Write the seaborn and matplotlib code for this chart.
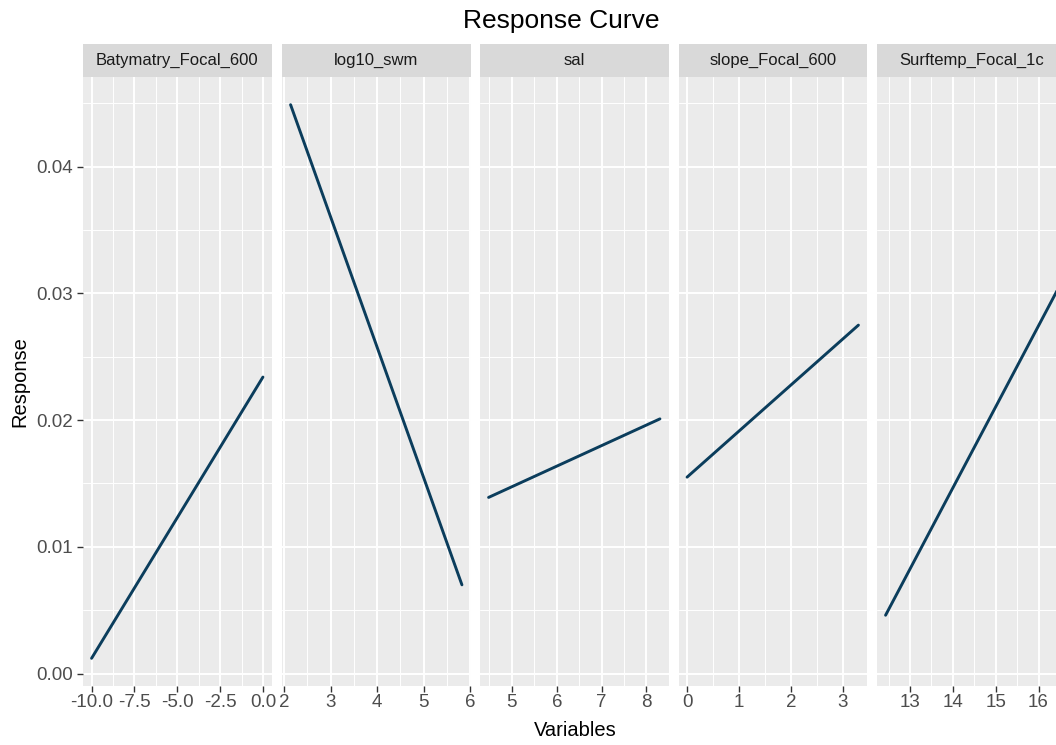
import matplotlib
matplotlib.use("Agg")
import matplotlib.pyplot as plt
from matplotlib.patches import Rectangle
from matplotlib.ticker import FixedLocator, AutoMinorLocator, FormatStrFormatter
import numpy as np
import pandas as pd
import seaborn as sns

# Response curve end points for each predictor
variables = ["Batymatry_Focal_600", "log10_swm", "sal", "slope_Focal_600", "Surftemp_Focal_1c"]
bat_x = [-10.0, 0.0]
bat_y = [0.0012, 0.0234]
swm_x = [2.14, 5.82]
swm_y = [0.0449, 0.0070]
sal_x = [4.48, 8.30]
sal_y = [0.0139, 0.0201]
slope_x = [0.0, 3.30]
slope_y = [0.0155, 0.0275]
temp_x = [12.43, 16.43]
temp_y = [0.0046, 0.0302]

# Axis break labels for each panel
bat_ticks = [-10.0, -7.5, -5.0, -2.5, 0.0]
bat_labels = ["-10.0", "-7.5", "-5.0", "-2.5", "0.0"]
swm_ticks = [2, 3, 4, 5, 6]
sal_ticks = [5, 6, 7, 8]
slope_ticks = [0, 1, 2, 3]
temp_ticks = [13, 14, 15, 16]
y_ticks = [0.00, 0.01, 0.02, 0.03, 0.04]

series = {
    "Batymatry_Focal_600": (bat_x, bat_y, bat_ticks, bat_labels),
    "log10_swm": (swm_x, swm_y, swm_ticks, [str(t) for t in swm_ticks]),
    "sal": (sal_x, sal_y, sal_ticks, [str(t) for t in sal_ticks]),
    "slope_Focal_600": (slope_x, slope_y, slope_ticks, [str(t) for t in slope_ticks]),
    "Surftemp_Focal_1c": (temp_x, temp_y, temp_ticks, [str(t) for t in temp_ticks]),
}

rows = []
for v in variables:
    xs, ys = series[v][0], series[v][1]
    for xv, yv in zip(xs, ys):
        rows.append({"variable": v, "x": xv, "response": yv})
df = pd.DataFrame(rows)

sns.set_theme(style="darkgrid")
plt.rcParams["font.family"] = ["Liberation Sans", "DejaVu Sans"]

W, H = 1056, 745
LINE = "#0B3D5C"
BG = "#EBEBEB"
STRIP = "#D9D9D9"

g = sns.FacetGrid(df, col="variable", col_order=variables, sharex=False, sharey=True,
                  height=3, aspect=0.6, despine=False)
g.map_dataframe(sns.lineplot, x="x", y="response", color=LINE, linewidth=2.1,
                estimator=None, sort=True)
fig = g.figure
fig.set_size_inches(W / 100, H / 100)
fig.set_dpi(100)
fig.patch.set_facecolor("white")

# shared y range with 5% expansion
all_y = df["response"].to_numpy()
ylo, yhi = all_y.min(), all_y.max()
ypad = 0.05 * (yhi - ylo)

panel_top, panel_bot = 77, 686
panel_w = 188.5
lefts = [83, 282, 480, 678.5, 877]
strip_h = 33

for i, (ax, v) in enumerate(zip(g.axes.flat, variables)):
    xs, ys, ticks, labels = series[v]
    ax.set_position([lefts[i] / W, (H - panel_bot) / H, panel_w / W,
                     (panel_bot - panel_top) / H])
    ax.set_facecolor(BG)
    for s in ax.spines.values():
        s.set_visible(False)
    xlo, xhi = min(xs), max(xs)
    xpad = 0.05 * (xhi - xlo)
    ax.set_xlim(xlo - xpad, xhi + xpad)
    ax.set_ylim(ylo - ypad, yhi + ypad)

    ax.xaxis.set_major_locator(FixedLocator(ticks))
    ax.set_xticklabels(labels)
    ax.xaxis.set_minor_locator(AutoMinorLocator(2))
    ax.yaxis.set_major_locator(FixedLocator(y_ticks))
    ax.yaxis.set_major_formatter(FormatStrFormatter("%.2f"))
    ax.yaxis.set_minor_locator(AutoMinorLocator(2))

    ax.grid(True, which="major", color="white", linewidth=1.4)
    ax.grid(True, which="minor", color="white", linewidth=0.7)
    ax.set_axisbelow(True)

    ax.tick_params(axis="x", which="major", length=4, width=1.0, color="#333333",
                   labelsize=13.5, labelcolor="#4D4D4D", pad=2, bottom=True)
    ax.tick_params(axis="y", which="major", length=4, width=1.0, color="#333333",
                   labelsize=13.5, labelcolor="#4D4D4D", pad=3, left=(i == 0),
                   labelleft=(i == 0))
    ax.tick_params(which="minor", length=0)
    ax.set_xlabel("")
    ax.set_ylabel("")
    ax.set_title("")

    # facet strip
    sh = strip_h / (panel_bot - panel_top)
    ax.add_patch(Rectangle((0, 1), 1, sh, transform=ax.transAxes, facecolor=STRIP,
                           edgecolor="none", clip_on=False, zorder=3))
    ax.text(0.5, 1 + sh / 2, v, transform=ax.transAxes, ha="center", va="center",
            fontsize=12, color="#1A1A1A", zorder=4)

fig.text(561 / W, 1 - 21 / H, "Response Curve", ha="center", va="center",
         fontsize=19, color="black")
fig.text(575 / W, 1 - 731 / H, "Variables", ha="center", va="center",
         fontsize=14.5, color="black")
fig.text(20 / W, 1 - ((panel_top + panel_bot) / 2) / H, "Response", ha="center",
         va="center", rotation=90, fontsize=14.5, color="black")

fig.savefig("out.png", dpi=100, facecolor="white")
